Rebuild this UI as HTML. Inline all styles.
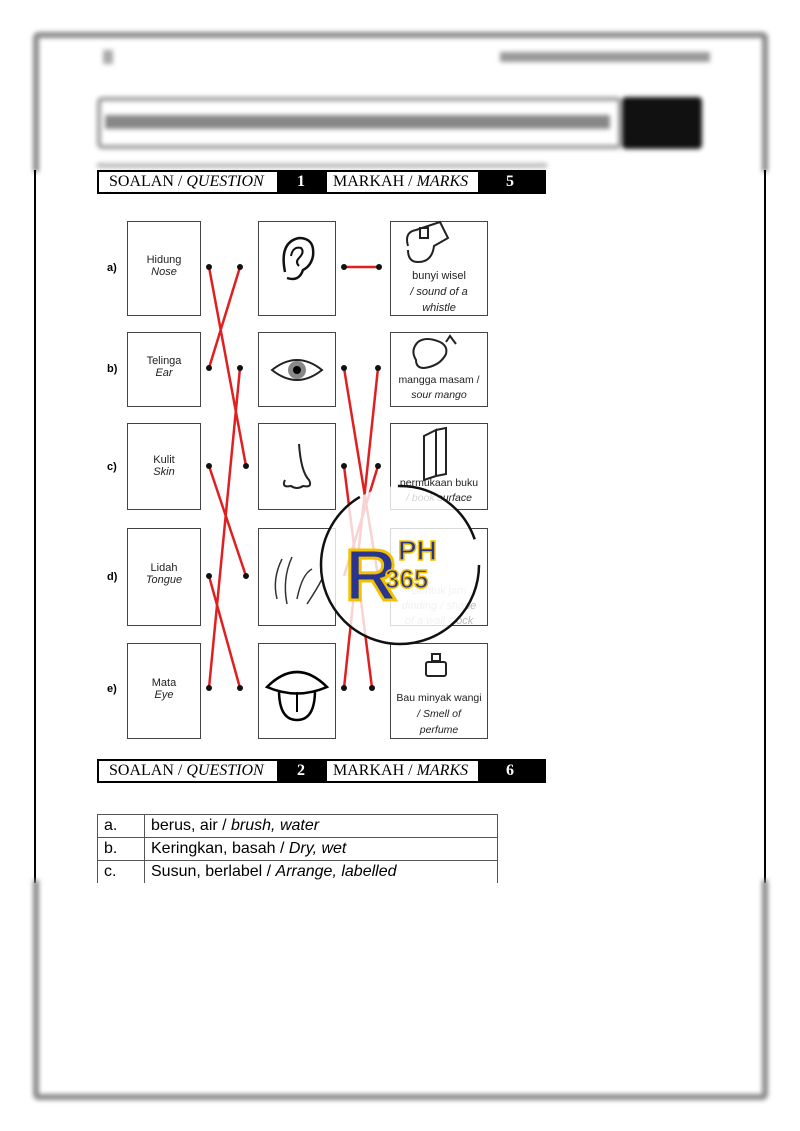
<!DOCTYPE html>
<html><head><meta charset="utf-8"><style>
body{margin:0;width:800px;height:1131px;background:#fff;position:relative;overflow:hidden;font-family:"Liberation Sans",sans-serif}
.a{position:absolute}
.blur{filter:blur(2.5px)}
.bar{position:absolute;left:97px;width:449px;height:24px;background:#000;font-family:"Liberation Serif",serif;font-size:16px}
.bar .w{position:absolute;top:2px;height:20px;background:#fff;line-height:20px}
.bar .n{position:absolute;top:2px;color:#fff;font-weight:bold;line-height:20px}
.box{position:absolute;border:1.5px solid #444;background:#fff;text-align:center;font-size:11px;color:#222;box-sizing:border-box}
.lab{position:absolute;left:107px;font-weight:bold;font-size:11px}
table{border-collapse:collapse;font-size:16px}
td{border:1px solid #555;height:22px;padding:0 0 0 6px}
</style></head><body>
<div class="a blur" style="left:33px;top:32px;width:735px;height:140px;border:6px solid #8a8a8a;border-bottom:none;box-sizing:border-box;border-radius:6px 6px 0 0"></div>
<div class="a blur" style="left:103px;top:50px;width:10px;height:14px;background:#aaa"></div>
<div class="a blur" style="left:500px;top:52px;width:210px;height:10px;background:#999"></div>
<div class="a blur" style="left:97px;top:97px;width:525px;height:52px;border:4px solid #999;box-sizing:border-box;border-radius:5px"></div>
<div class="a blur" style="left:105px;top:115px;width:505px;height:14px;background:#888"></div>
<div class="a blur" style="left:622px;top:97px;width:80px;height:52px;background:#111;border-radius:4px"></div>
<div class="a blur" style="left:97px;top:163px;width:450px;height:5px;background:#bbb"></div>
<div class="a" style="left:34px;top:170px;width:2px;height:713px;background:#000"></div>
<div class="a" style="left:764px;top:170px;width:2px;height:713px;background:#000"></div>

<div class="bar" style="top:170px">
<div class="w" style="left:2px;width:178px;padding-left:10px;box-sizing:border-box">SOALAN / <i>QUESTION</i></div>
<div class="n" style="left:200px">1</div>
<div class="w" style="left:230px;width:151px;padding-left:6px;box-sizing:border-box">MARKAH / <i>MARKS</i></div>
<div class="n" style="left:409px">5</div></div>

<div class="lab" style="top:262px">a)</div><div class="lab" style="top:363px">b)</div><div class="lab" style="top:461px">c)</div><div class="lab" style="top:571px">d)</div><div class="lab" style="top:683px">e)</div>

<div class="box" style="left:127px;top:221px;width:74px;height:95px;padding-top:32px">Hidung<br><i>Nose</i></div>
<div class="box" style="left:127px;top:332px;width:74px;height:75px;padding-top:22px">Telinga<br><i>Ear</i></div>
<div class="box" style="left:127px;top:423px;width:74px;height:87px;padding-top:30px">Kulit<br><i>Skin</i></div>
<div class="box" style="left:127px;top:528px;width:74px;height:98px;padding-top:33px">Lidah<br><i>Tongue</i></div>
<div class="box" style="left:127px;top:643px;width:74px;height:96px;padding-top:33px">Mata<br><i>Eye</i></div>

<div class="box" style="left:258px;top:221px;width:78px;height:95px;padding-top:12px"><svg width="40" height="50"><path d="M8 38Q2 8 22 4Q38 4 36 22Q34 32 26 36Q22 48 10 44" fill="none" stroke="#111" stroke-width="2.5"/><path d="M14 22Q16 12 24 14Q28 18 22 24Q18 28 22 32" fill="none" stroke="#111" stroke-width="2"/></svg></div>
<div class="box" style="left:258px;top:332px;width:78px;height:75px;padding-top:22px"><svg width="56" height="30"><path d="M3 15Q28-5 53 15Q28 35 3 15Z" fill="none" stroke="#222" stroke-width="2"/><circle cx="28" cy="15" r="9" fill="#888"/><circle cx="28" cy="15" r="4" fill="#000"/></svg></div>
<div class="box" style="left:258px;top:423px;width:78px;height:87px;padding-top:18px"><svg width="40" height="50"><path d="M22 2Q24 30 32 38Q36 46 26 44Q20 48 14 44Q4 46 8 38" fill="none" stroke="#222" stroke-width="2"/></svg></div>
<div class="box" style="left:258px;top:528px;width:78px;height:98px;padding-top:20px"><svg width="60" height="60"><path d="M10 50Q5 30 15 10M20 55Q15 30 25 8M30 50Q35 25 45 20M40 55Q50 40 55 30" fill="none" stroke="#333" stroke-width="1.5"/></svg></div>
<div class="box" style="left:258px;top:643px;width:78px;height:96px;padding-top:18px"><svg width="66" height="60"><path d="M3 25Q33-5 63 25Q33 38 3 25Z" fill="none" stroke="#000" stroke-width="2.5"/><path d="M15 28Q15 58 33 58Q51 58 51 28" fill="none" stroke="#000" stroke-width="2.5"/><path d="M33 30V50" stroke="#000" stroke-width="2"/></svg></div>

<div class="box" style="left:390px;top:221px;width:98px;height:95px;padding-top:46px;line-height:16px">bunyi wisel<br><i>/ sound of a<br>whistle</i></div>
<div class="box" style="left:390px;top:332px;width:98px;height:75px;padding-top:40px;line-height:15px;font-size:10.5px">mangga masam /<br><i>sour mango</i></div>
<div class="box" style="left:390px;top:423px;width:98px;height:87px;padding-top:52px;line-height:15px;font-size:10.5px">permukaan buku<br><i>/ book surface</i></div>
<div class="box" style="left:390px;top:528px;width:98px;height:98px;padding-top:55px;line-height:15px;color:#bbb">Bentuk jam<br><i>dinding / shape<br>of a wall clock</i></div>
<div class="box" style="left:390px;top:643px;width:98px;height:96px;padding-top:46px;line-height:16px;font-size:10.5px">Bau minyak wangi<br><i>/ Smell of<br>perfume</i></div>

<svg class="a" style="left:0;top:0" width="800" height="800">
<g fill="none" stroke="#222" stroke-width="2">
<path d="M408 246Q404 232 416 230L440 222L448 238L434 246Q432 262 418 262Q408 262 408 250"/><rect x="420" y="228" width="8" height="10"/>
<path d="M416 360Q410 350 418 342Q426 336 440 342Q448 346 446 354Q440 366 424 368Q416 368 416 360Z"/><path d="M446 342L450 336L456 344"/>
<path d="M424 436L436 430V476L424 480Z"/><path d="M436 430L446 428V474L436 476"/>
<rect x="426" y="662" width="20" height="14" rx="2"/><rect x="432" y="654" width="8" height="7"/></g>
<g stroke="#e02020" stroke-width="2.5" fill="none">
<line x1="209" y1="267" x2="246" y2="466"/><line x1="240" y1="267" x2="209" y2="368"/>
<line x1="240" y1="368" x2="209" y2="688"/><line x1="209" y1="466" x2="246" y2="576"/>
<line x1="209" y1="576" x2="240" y2="688"/>
<line x1="344" y1="267" x2="379" y2="267"/><line x1="344" y1="368" x2="378" y2="576"/>
<line x1="378" y1="368" x2="344" y2="688"/><line x1="344" y1="466" x2="372" y2="688"/>
<line x1="378" y1="466" x2="344" y2="576"/></g>
<g fill="#111"><circle cx="209" cy="267" r="3"/><circle cx="240" cy="267" r="3"/><circle cx="344" cy="267" r="3"/><circle cx="379" cy="267" r="3"/>
<circle cx="209" cy="368" r="3"/><circle cx="240" cy="368" r="3"/><circle cx="344" cy="368" r="3"/><circle cx="378" cy="368" r="3"/>
<circle cx="209" cy="466" r="3"/><circle cx="246" cy="466" r="3"/><circle cx="344" cy="466" r="3"/><circle cx="378" cy="466" r="3"/>
<circle cx="209" cy="576" r="3"/><circle cx="246" cy="576" r="3"/>
<circle cx="209" cy="688" r="3"/><circle cx="240" cy="688" r="3"/><circle cx="344" cy="688" r="3"/><circle cx="372" cy="688" r="3"/></g>
<circle cx="400" cy="565" r="79" fill="#fff" fill-opacity="0.8" stroke="#111" stroke-width="2.5" stroke-dasharray="330 40 100 30"/>
<text x="345" y="600" font-family="Liberation Sans" font-weight="bold" font-size="72" fill="#2a3590" stroke="#f2c200" stroke-width="3">R</text>
<text x="398" y="560" font-family="Liberation Sans" font-weight="bold" font-size="28" fill="#2a3590" stroke="#f2c200" stroke-width="1.5">PH</text>
<text x="385" y="588" font-family="Liberation Sans" font-weight="bold" font-size="26" fill="#2a3590" stroke="#f2c200" stroke-width="1.5">365</text>
</svg>

<div class="bar" style="top:759px">
<div class="w" style="left:2px;width:178px;padding-left:10px;box-sizing:border-box">SOALAN / <i>QUESTION</i></div>
<div class="n" style="left:200px">2</div>
<div class="w" style="left:230px;width:151px;padding-left:6px;box-sizing:border-box">MARKAH / <i>MARKS</i></div>
<div class="n" style="left:409px">6</div></div>

<table class="a" style="left:97px;top:814px;width:401px">
<tr><td style="width:40px">a.</td><td>berus, air / <i>brush, water</i></td></tr>
<tr><td>b.</td><td>Keringkan, basah / <i>Dry, wet</i></td></tr>
<tr><td>c.</td><td>Susun, berlabel / <i>Arrange, labelled</i></td></tr></table>

<div class="a" style="left:0;top:883px;width:800px;height:248px;background:#fff"></div>
<div class="a blur" style="left:33px;top:880px;width:735px;height:220px;border:6px solid #8a8a8a;border-top:none;box-sizing:border-box;border-radius:0 0 6px 6px"></div>
</body></html>
